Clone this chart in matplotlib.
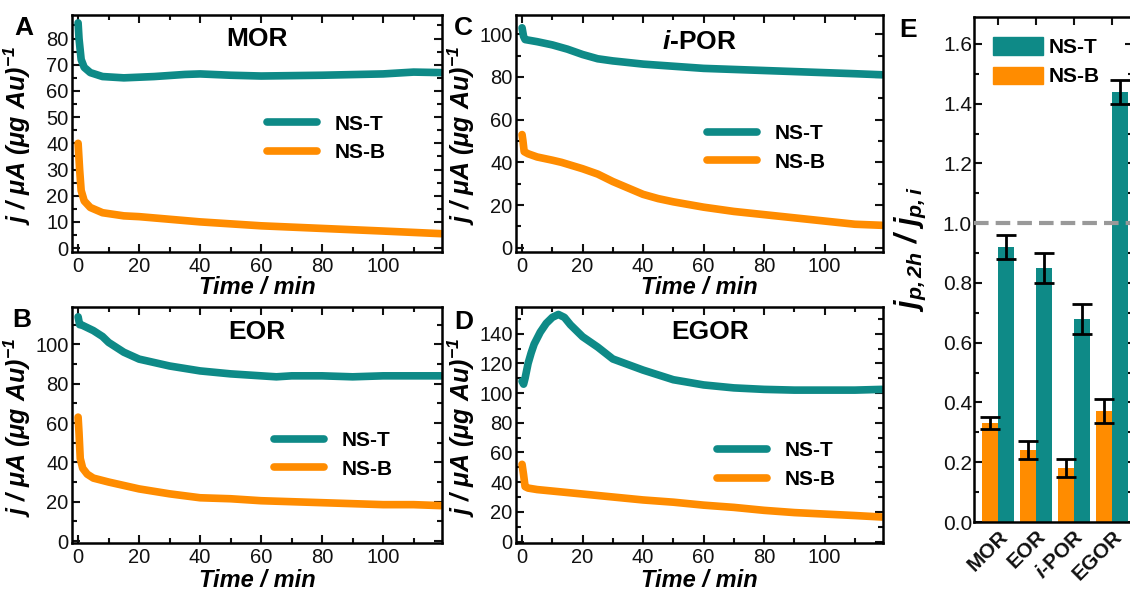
import numpy as np
import matplotlib
matplotlib.use("Agg")
import matplotlib.pyplot as plt
from matplotlib.ticker import MultipleLocator
from matplotlib.patches import Patch

plt.rcParams["font.family"] = ["Liberation Sans", "DejaVu Sans"]
plt.rcParams["mathtext.fontset"] = "custom"
plt.rcParams["mathtext.it"] = "Liberation Sans:italic:bold"
plt.rcParams["mathtext.rm"] = "Liberation Sans:bold"
plt.rcParams["mathtext.bf"] = "Liberation Sans:bold"
plt.rcParams["mathtext.default"] = "regular"

TEAL = "#0E8A87"
ORANGE = "#FF8C00"

# A - MOR
mor_t_time = [0, 0.3, 1, 2, 4, 8, 15, 25, 35, 40, 50, 60, 80, 100, 110, 119]
mor_t_val = [86, 80, 72, 69, 67, 65.5, 65, 65.5, 66.3, 66.5, 66, 65.7, 66, 66.5, 67.2, 67]
mor_b_time = [0, 0.5, 1, 2, 4, 8, 15, 20, 30, 40, 60, 80, 100, 119]
mor_b_val = [40, 30, 22, 18, 15.5, 13.5, 12.3, 12, 11, 10, 8.5, 7.5, 6.5, 5.5]

# B - EOR
eor_t_time = [0, 0.5, 1, 5, 8, 10, 15, 20, 30, 40, 50, 60, 65, 70, 80, 90, 100, 110, 119]
eor_t_val = [114, 110, 110, 107, 104, 101, 96, 92.5, 89, 86.5, 85, 84, 83.5, 84, 84, 83.5, 84, 84, 84]
eor_b_time = [0, 0.3, 0.7, 1.5, 3, 5, 10, 20, 30, 40, 50, 60, 70, 80, 90, 100, 110, 119]
eor_b_val = [63, 55, 42, 37, 34, 32, 30, 26.5, 24, 22, 21.5, 20.5, 20, 19.5, 19, 18.5, 18.5, 18]

# C - i-POR
ipor_t_time = [0, 0.5, 1, 5, 10, 15, 20, 25, 30, 40, 50, 60, 70, 80, 90, 100, 110, 119]
ipor_t_val = [103, 99, 97.5, 96.5, 95, 93, 90.5, 88.5, 87.5, 86, 85, 84, 83.5, 83, 82.5, 82, 81.5, 81]
ipor_b_time = [0, 0.3, 0.7, 2, 5, 10, 13, 20, 25, 30, 35, 40, 45, 50, 60, 70, 80, 90, 100, 110, 119]
ipor_b_val = [53, 50, 45, 44, 42.5, 41, 40, 37, 34.5, 31, 28, 25, 23, 21.5, 19, 17, 15.5, 14, 12.5, 11, 10.5]

# D - EGOR
egor_t_time = [0, 0.5, 1, 2, 3, 4, 6, 8, 10, 12, 14, 16, 18, 20, 25, 30, 40, 50, 60, 70, 80, 90, 100, 110, 119]
egor_t_val = [108, 106, 110, 120, 127, 133, 141, 147, 151, 153, 151, 146, 142, 138, 131, 123, 115.5, 109,
              105.5, 103.5, 102.5, 102, 102, 102, 102.5]
egor_b_time = [0, 0.5, 1, 2, 5, 10, 20, 30, 40, 50, 60, 70, 80, 90, 100, 110, 119]
egor_b_val = [52, 45, 37, 36, 35, 34, 32, 30, 28, 26.5, 24.5, 23, 21, 19.5, 18.5, 17.5, 16.5]

# E - ratio bars
reactions = ["MOR", "EOR", "$\\mathit{i}$-POR", "EGOR"]
ratio_t = [0.92, 0.85, 0.68, 1.44]
ratio_t_err = [0.04, 0.05, 0.05, 0.04]
ratio_b = [0.33, 0.24, 0.18, 0.37]
ratio_b_err = [0.02, 0.03, 0.03, 0.04]

YLABEL = "j / μA (μg Au)$^{-1}$"


def style_axes(ax, size=14.5):
    ax.tick_params(which="both", direction="in", top=True, right=True, width=1.5,
                   labelsize=size, colors="#111111")
    ax.tick_params(which="major", length=6)
    ax.tick_params(which="minor", length=3.5)
    for s in ax.spines.values():
        s.set_linewidth(1.8)


def line_panel(ax, t1, v1, t2, v2, ylim, ymaj, ymin, title, leg_xy, xlab_y):
    ax.plot(t1, v1, color=TEAL, lw=5.5, solid_capstyle="round", label="NS-T")
    ax.plot(t2, v2, color=ORANGE, lw=5.5, solid_capstyle="round", label="NS-B")
    ax.set_xlim(-2, 119.3)
    ax.set_ylim(*ylim)
    ax.xaxis.set_major_locator(MultipleLocator(20))
    ax.xaxis.set_minor_locator(MultipleLocator(10))
    ax.yaxis.set_major_locator(MultipleLocator(ymaj))
    ax.yaxis.set_minor_locator(MultipleLocator(ymin))
    style_axes(ax)
    ax.tick_params(axis="y", pad=2.5)
    ax.set_xlabel("Time / min", fontsize=17, fontweight="bold", style="italic")
    ax.xaxis.set_label_coords(0.5, xlab_y)
    ax.set_ylabel(YLABEL, fontsize=18, fontweight="bold", style="italic")
    ax.yaxis.set_label_coords(-0.105, 0.49)
    ax.text(title[1], title[2], title[0], transform=ax.transAxes, ha="center", va="center",
            fontsize=19, fontweight="bold")
    ax.legend(loc="center left", bbox_to_anchor=leg_xy, frameon=False,
              prop={"weight": "bold", "size": 15}, handlelength=2.4,
              handletextpad=0.85, borderpad=0, borderaxespad=0, labelspacing=0.45)


fig = plt.figure(figsize=(11.3, 5.9), dpi=100)
W, H = 1130, 590


def add_ax(x0, y0, x1, y1):
    return fig.add_axes([x0 / W, 1 - y1 / H, (x1 - x0) / W, (y1 - y0) / H])


axA = add_ax(72, 15, 442, 252)
axC = add_ax(516, 15, 883, 252)
axB = add_ax(72, 307, 442, 543)
axD = add_ax(516, 307, 883, 543)
axE = add_ax(974, 17, 1133, 522)

line_panel(axA, mor_t_time, mor_t_val, mor_b_time, mor_b_val, (-1.5, 89), 10, 5,
           ("MOR", 0.5, 0.90), (0.527, 0.479), -0.1)
line_panel(axC, ipor_t_time, ipor_t_val, ipor_b_time, ipor_b_val, (-2, 109), 20, 10,
           ("$\\mathit{i}$-POR", 0.5, 0.885), (0.52, 0.439), -0.1)
line_panel(axB, eor_t_time, eor_t_val, eor_b_time, eor_b_val, (-1, 119), 20, 10,
           ("EOR", 0.5, 0.894), (0.546, 0.373), -0.11)
line_panel(axD, egor_t_time, egor_t_val, egor_b_time, egor_b_val, (-1, 158), 20, 10,
           ("EGOR", 0.53, 0.894), (0.548, 0.33), -0.11)

# panel E
x = np.arange(len(reactions))
w = 0.42
axE.bar(x - w / 2, ratio_b, w, color=ORANGE, zorder=2)
axE.bar(x + w / 2, ratio_t, w, color=TEAL, zorder=2)
axE.errorbar(x - w / 2, ratio_b, yerr=ratio_b_err, fmt="none", ecolor="black",
             elinewidth=2, capsize=7, capthick=2, zorder=3)
axE.errorbar(x + w / 2, ratio_t, yerr=ratio_t_err, fmt="none", ecolor="black",
             elinewidth=2, capsize=7, capthick=2, zorder=3)
axE.axhline(1.0, color="#999999", lw=3, ls=(0, (3.5, 1.7)), zorder=4)
axE.set_xlim(-0.63, 3.55)
axE.set_ylim(0, 1.69)
axE.yaxis.set_major_locator(MultipleLocator(0.2))
axE.yaxis.set_minor_locator(MultipleLocator(0.1))
axE.yaxis.set_major_formatter(plt.FuncFormatter(lambda v, p: f"{v:.1f}"))
axE.set_xticks(x)
axE.set_xticklabels(reactions, rotation=45, ha="right", rotation_mode="anchor",
                    fontweight="bold", fontsize=15)
style_axes(axE, size=15)
axE.tick_params(axis="y", pad=1.5)
axE.set_ylabel("$j_{p,2h}$ / $j_{p,i}$", fontsize=22, fontweight="bold", style="italic")
axE.yaxis.set_label_coords(-0.29, 0.54)
axE.legend(handles=[Patch(color=TEAL, label="NS-T"), Patch(color=ORANGE, label="NS-B")],
           loc="upper left", bbox_to_anchor=(0.12, 0.96), frameon=False,
           prop={"weight": "bold", "size": 15}, handlelength=2.4, handleheight=0.92,
           handletextpad=0.25, borderpad=0, borderaxespad=0, labelspacing=0.45)

for letter, px, py in [("A", 24, 28), ("C", 463, 28), ("B", 22, 320), ("D", 464, 322), ("E", 908, 30)]:
    fig.text(px / W, 1 - py / H, letter, fontsize=19, fontweight="bold", ha="center", va="center")

fig.savefig("out.png", dpi=100)
